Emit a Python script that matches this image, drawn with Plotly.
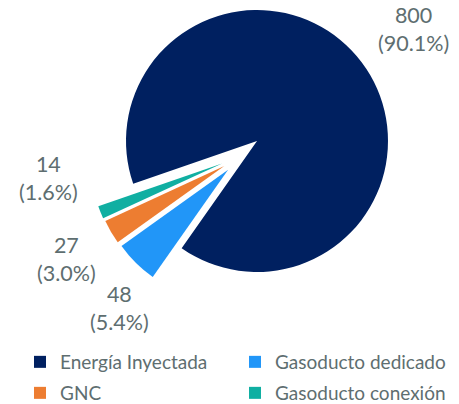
import plotly.graph_objects as go

# ---- data ----
labels = ["Energía Inyectada", "Gasoducto dedicado", "GNC", "Gasoducto conexión"]
values = [800.2, 47.7, 26.7, 13.9]

# ---- style ----
colors = ["#002060", "#2196F8", "#ED7D31", "#10AFA2"]
TEXT = "#5e6e70"
FONT = "Lato"
W, H = 459, 404
CX, CY, R = 257, 141, 131          # pie centre and radius (px)
ROTATION = -109.1                  # first slice starts at bearing 250.9 deg
explode = [(0, 0), (-28.9, 28.8), (-32.7, 25.1), (-34.9, 22.5)]   # slice offsets (px)
label_pos = [(413, 29), (119, 308), (66, 259), (48, 178)]          # label block centres (px)

total = sum(values)
fig = go.Figure()

# one pie per slice so each slice can be offset (exploded) independently
for i in range(len(values)):
    dx, dy = explode[i]
    cx, cy = CX + dx, CY + dy
    fig.add_trace(go.Pie(
        labels=labels, values=values, sort=False,
        direction="clockwise", rotation=ROTATION,
        marker=dict(colors=[c if j == i else "rgba(0,0,0,0)" for j, c in enumerate(colors)],
                    line=dict(width=0)),
        textinfo="none", showlegend=False, hoverinfo="label+value+percent",
        domain=dict(x=[(cx - R) / W, (cx + R) / W], y=[1 - (cy + R) / H, 1 - (cy - R) / H]),
    ))

# legend carriers (two rows = two legends)
for k, leg in enumerate(["legend", "legend2"]):
    idx = [2 * k, 2 * k + 1]
    fig.add_trace(go.Pie(
        labels=[labels[i] for i in idx], values=[values[i] for i in idx], sort=False,
        marker=dict(colors=[colors[i] for i in idx], line=dict(width=0)),
        textinfo="none", hoverinfo="skip", legend=leg,
        domain=dict(x=[0, 0.0001], y=[0, 0.0001]),
    ))

# data labels
for i, v in enumerate(values):
    x, y = label_pos[i]
    fig.add_annotation(x=x / W, y=1 - y / H, xref="paper", yref="paper",
                       text=f"{v:.0f}<br>({v / total * 100:.1f}%)",
                       showarrow=False, xanchor="center", yanchor="middle", align="center",
                       font=dict(family=FONT, size=21.5, color=TEXT))

leg_common = dict(orientation="h", x=20 / W, xanchor="left", yanchor="middle",
                  entrywidth=170, entrywidthmode="pixels", bgcolor="rgba(0,0,0,0)",
                  font=dict(family=FONT, size=19, color=TEXT), itemclick=False, itemdoubleclick=False)

fig.update_layout(
    width=W, height=H,
    margin=dict(l=0, r=0, t=0, b=0, autoexpand=False),
    paper_bgcolor="white", plot_bgcolor="white",
    legend=dict(y=1 - 362 / H, **leg_common),
    legend2=dict(y=1 - 393 / H, **leg_common),
)

fig.write_html("out.html", config={"displayModeBar": False},
               post_script="document.body.style.margin='0';")
